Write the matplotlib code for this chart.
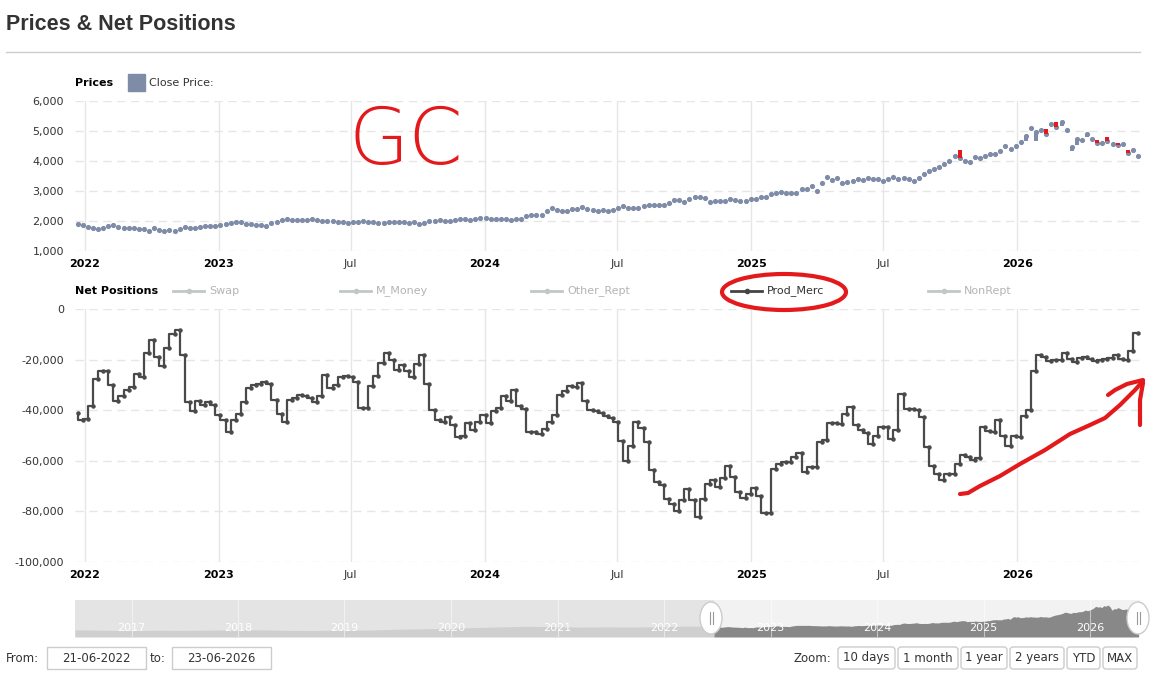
import numpy as np
import pandas as pd
import matplotlib
matplotlib.use("Agg")
import matplotlib.pyplot as plt
import matplotlib.dates as mdates
from matplotlib.patches import Rectangle, Ellipse, FancyBboxPatch
from matplotlib.lines import Line2D
from matplotlib.ticker import FuncFormatter, MultipleLocator
from matplotlib.transforms import IdentityTransform

plt.rcParams["font.family"] = ["DejaVu Sans"]

# weekly close price (GC), 21-06-2022 onwards
close_price = [
    1890, 1870, 1810, 1780, 1745, 1780, 1830, 1855, 1810, 1780,
    1770, 1755, 1735, 1720, 1680, 1770, 1710, 1680, 1700, 1670,
    1745, 1810, 1780, 1780, 1810, 1845, 1845, 1845, 1870, 1900,
    1945, 1965, 1980, 1900, 1890, 1870, 1870, 1845, 1935, 1980,
    2030, 2055, 2045, 2045, 2045, 2045, 2065, 2030, 2010, 2010,
    2000, 1980, 1980, 1945, 1965, 1955, 2000, 1980, 1965, 1945,
    1935, 1955, 1980, 1965, 1955, 1945, 1955, 1890, 1935, 1990,
    2010, 2030, 2000, 2010, 2030, 2065, 2065, 2020, 2080, 2100,
    2110, 2080, 2080, 2080, 2065, 2030, 2065, 2065, 2165, 2200,
    2210, 2200, 2345, 2420, 2380, 2345, 2345, 2390, 2400,
    2480, 2400, 2355, 2335, 2365, 2345, 2365, 2420, 2510, 2445,
    2445, 2435, 2510, 2545, 2545, 2545, 2545, 2590, 2700, 2700,
    2645, 2720, 2790, 2810, 2780, 2645, 2680, 2680, 2680, 2745,
    2690, 2680, 2680, 2720, 2720, 2810, 2810, 2900, 2945, 2965,
    2945, 2945, 2945, 3080, 3080, 3180, 3010, 3280, 3455, 3365,
    3435, 3280, 3300, 3345, 3410, 3365, 3445, 3390, 3390, 3345,
    3390, 3480, 3390, 3420, 3400, 3345, 3445, 3580, 3680, 3745,
    3810, 3890, 4010, 4165, 4110, 4010, 3980, 4135, 4100, 4180,
    4245, 4235, 4345, 4510, 4400, 4500, 4645, 4830, 5110, 4980,
    5035, 4900, 5220, 5120, 5310, 5035, 4480, 4720, 4700, 4900,
    4735, 4590, 4610, 4680, 4555, 4520, 4555, 4280, 4365, 4165,
]

# weeks where a candle body is visible: index and open
candle_idx = [173, 186, 188, 190, 192, 193, 195, 196, 198, 200, 202, 204, 206]
candle_open = [4365, 4680, 4680, 5055, 5310, 5170, 4345, 4530, 4790, 4700, 4790, 4590, 4370]

# Prod_Merc net position, same weeks
prod_merc = [
    -41000, -44000, -43500, -38500, -27800, -24700, -24700, -30000, -36400, -34300,
    -32000, -31000, -25700, -27000, -17400, -12200, -19000, -22600, -15500, -9900,
    -8300, -18200, -36600, -40500, -36200, -37800, -36800, -37800, -42000, -43700,
    -48700, -44000, -41400, -36800, -31200, -30000, -29500, -29000, -29500, -35800,
    -41400, -44500, -35800, -35000, -33800, -34500, -35300, -36600, -34200, -25900,
    -31200, -30000, -27000, -26500,
    -27000, -29000, -39000, -39000, -30300, -26300, -21300, -17500, -20100, -24000,
    -22000, -24700, -26700, -21700, -18200, -29600, -39900, -43800, -44700, -42800,
    -45800, -50700, -50200, -45100, -48000, -44700, -41700, -45000, -40500, -39000,
    -34200, -36400, -32000, -38300, -39700, -48800, -48700, -49300, -47400, -44700,
    -42000, -34000, -32500, -30600, -31000, -29300, -36400, -40100, -40400, -41000,
    -42400, -43000,
    -44700, -52000, -60100, -54200, -44700, -47000, -52600, -63800, -68400, -69700,
    -75000, -77200, -79900, -75300, -71300, -75300, -82200, -75000, -69100, -67400,
    -70400, -66800, -62100, -66400, -72400, -74600, -73000, -70700, -74100, -80500,
    -80500, -63400, -61200, -60300, -60500, -58600, -57000, -64500, -62500, -62500,
    -52600, -51700, -45100, -45100, -45400, -41400, -38800, -45700, -47800, -49000,
    -53300, -50300, -46700,
    -46700, -51300, -48000, -33600, -39500, -39500, -40000, -42500, -54600, -62100,
    -65100, -67400, -65400, -65400, -61200, -57600, -58600, -59600, -59000, -46700,
    -48400, -48600, -43700, -50000, -54200, -50000, -50500, -42100, -40100, -24700,
    -18000, -19100, -20600, -20200, -20100, -17500, -19700, -21000, -19300, -19000,
    -19800, -20400, -20000, -19600, -19300, -18200, -19800, -20000, -16700, -9500,
]

# navigator history before the selected range (quarterly)
nav_early_price = [
    1330, 1270, 1200, 1260, 1240, 1280, 1330, 1330, 1240, 1220,
    1290, 1280, 1410, 1490, 1560, 1690, 1800, 1890, 1850, 1770,
    1800, 1780, 1820, 1930,
]

tick_dates = ["2022-07-01", "2023-01-01", "2023-07-01", "2024-01-01",
              "2024-07-01", "2025-01-01", "2025-07-01", "2026-01-01"]
tick_labels = ["2022", "2023", "Jul", "2024", "Jul", "2025", "Jul", "2026"]
nav_years = [2017, 2018, 2019, 2020, 2021, 2022, 2023, 2024, 2025, 2026]
legend_names = ["Swap", "M_Money", "Other_Rept", "Prod_Merc", "NonRept"]
zoom_buttons = ["10 days", "1 month", "1 year", "2 years", "YTD", "MAX"]

dates = pd.date_range("2022-06-21", periods=len(close_price), freq="7D")
x = mdates.date2num(dates)
nav_early_dates = pd.date_range("2016-06-21", periods=len(nav_early_price), freq="91D")
x_nav_early = mdates.date2num(nav_early_dates)
tick_x = mdates.date2num(pd.to_datetime(tick_dates))

W, H = 1158, 680
RED = "#e3191c"


def fx(px):
    return px / W


def fy(py):
    return 1 - py / H


fig = plt.figure(figsize=(W / 100, H / 100), dpi=100)

ax_p = fig.add_axes([fx(75), fy(251), (1140 - 75) / W, 150 / H])
ax_n = fig.add_axes([fx(75), fy(562), (1140 - 75) / W, 253 / H])

for ax in (ax_p, ax_n):
    for s in ax.spines.values():
        s.set_visible(False)
    ax.set_axisbelow(True)
    ax.grid(axis="y", color="#e6e6e6", linestyle=(0, (6, 4)), linewidth=1)
    ax.grid(axis="x", color="#e6e6e6", linestyle="-", linewidth=1)
    ax.tick_params(length=0, labelsize=8, colors="#333333")
    ax.tick_params(axis="y", pad=8)
    ax.tick_params(axis="x", pad=6)
    ax.set_xlim(x[0] - 3.7, x[-1] + 2.7)
    ax.set_xticks(tick_x)
    ax.set_xticklabels(tick_labels)
    for lab in ax.get_xticklabels():
        if lab.get_text() != "Jul":
            lab.set_fontweight("bold")
            lab.set_color("#000000")
    ax.yaxis.set_major_formatter(FuncFormatter(lambda v, p: f"{int(v):,}"))

# prices
ax_p.set_ylim(1000, 6000)
ax_p.yaxis.set_major_locator(MultipleLocator(1000))
ax_p.plot(x, close_price, "o", ms=2.7, color="#7f8ca8", zorder=3)
for i, op in zip(candle_idx, candle_open):
    cl = close_price[i]
    col = RED if op > cl else "#7f8ca8"
    ax_p.bar(x[i], cl - op, bottom=op, width=5.5, color=col, zorder=4)

# net positions
ax_n.set_ylim(-100000, 0)
ax_n.yaxis.set_major_locator(MultipleLocator(20000))
ax_n.plot(x, prod_merc, drawstyle="steps-pre", color="#4a4a4a", lw=1.6,
          marker="o", ms=2.2, zorder=3)

# navigator
ax_nav = fig.add_axes([fx(75), fy(637), (1140 - 75) / W, 37 / H])
for s in ax_nav.spines.values():
    s.set_visible(False)
ax_nav.set_xticks([])
ax_nav.set_yticks([])
nav_lo = mdates.date2num(pd.Timestamp("2016-06-21"))
nav_hi = mdates.date2num(pd.Timestamp("2026-06-21"))
ax_nav.set_xlim(nav_lo, nav_hi)
ax_nav.set_ylim(180, 6120)
ax_nav.axvspan(nav_lo, x[0], color="#e4e4e4", lw=0)
ax_nav.axvspan(x[0], nav_hi, color="#f2f2f2", lw=0)
left_x = np.append(x_nav_early, x[0])
left_y = np.append(nav_early_price, close_price[0])
ax_nav.fill_between(left_x, 180, left_y, color="#cfcfcf", lw=0)
ax_nav.fill_between(x, 180, close_price, color="#888888", lw=0)
for yr in nav_years:
    yx = mdates.date2num(pd.Timestamp(f"{yr}-01-01"))
    ax_nav.axvline(yx, color="white", lw=0.8, alpha=0.5)
    ax_nav.text(yx, 0.12, str(yr), transform=ax_nav.get_xaxis_transform(),
                ha="center", va="bottom", fontsize=8, color="white")

for hx in (711, 1138):
    fig.add_artist(Ellipse((hx, H - 618), 22, 32, transform=IdentityTransform(),
                           facecolor="white", edgecolor="#cccccc", lw=1, zorder=10))
    for dx in (-1.5, 1.5):
        fig.add_artist(Line2D([hx + dx, hx + dx], [H - 612, H - 624],
                              transform=IdentityTransform(), color="#999999",
                              lw=0.8, zorder=11))

# header
fig.text(fx(6), fy(24), "Prices & Net Positions", fontsize=15.5, fontweight="bold",
         color="#333333", family=["Liberation Sans", "DejaVu Sans"], va="center")
fig.add_artist(Line2D([fx(6), fx(1140)], [fy(52), fy(52)], color="#cccccc", lw=1))

fig.text(fx(75), fy(83), "Prices", fontsize=8, fontweight="bold", color="#000000",
         va="center")
fig.add_artist(Rectangle((fx(128), fy(91)), 17 / W, 17 / H, transform=fig.transFigure,
                         color="#7f8ca8"))
fig.text(fx(149), fy(83), "Close Price:", fontsize=8, color="#333333", va="center")

fig.text(fx(75), fy(291), "Net Positions", fontsize=8, fontweight="bold",
         color="#000000", va="center")
legend_x = [173, 340, 531, 731, 928]
for name, lx in zip(legend_names, legend_x):
    active = name == "Prod_Merc"
    lc = "#444444" if active else "#c0c8c8"
    tc = "#333333" if active else "#b4b4b4"
    fig.add_artist(Line2D([fx(lx), fx(lx + 31)], [fy(291), fy(291)], color=lc, lw=2))
    fig.add_artist(Line2D([fx(lx + 15.5)], [fy(291)], color=lc, marker="o", ms=3))
    fig.text(fx(lx + 36), fy(291), name, fontsize=8, color=tc, va="center")

# range inputs
fig.text(fx(6), fy(658), "From:", fontsize=8.5, color="#333333", va="center")
fig.add_artist(Rectangle((fx(47), fy(669)), 99 / W, 22 / H, transform=fig.transFigure,
                         facecolor="white", edgecolor="#cccccc", lw=1))
fig.text(fx(96), fy(658), "21-06-2022", fontsize=8.5, color="#333333",
         va="center", ha="center")
fig.text(fx(150), fy(658), "to:", fontsize=8.5, color="#333333", va="center")
fig.add_artist(Rectangle((fx(172), fy(669)), 99 / W, 22 / H, transform=fig.transFigure,
                         facecolor="white", edgecolor="#cccccc", lw=1))
fig.text(fx(221), fy(658), "23-06-2026", fontsize=8.5, color="#333333",
         va="center", ha="center")

fig.text(fx(794), fy(658), "Zoom:", fontsize=8.5, color="#333333", va="center")
button_edges = [(838, 895), (898, 958), (961, 1007), (1010, 1064), (1067, 1100), (1103, 1137)]
for label, (b0, b1) in zip(zoom_buttons, button_edges):
    fig.add_artist(FancyBboxPatch((b0, H - 669), b1 - b0, 22,
                                  boxstyle="round,pad=0,rounding_size=3",
                                  transform=IdentityTransform(), facecolor="white",
                                  edgecolor="#cccccc", lw=1))
    fig.text(fx((b0 + b1) / 2), fy(658), label, fontsize=8.5, color="#333333",
             va="center", ha="center")

# red hand annotations
fig.text(fx(406), fy(142), "GC", fontsize=56, color=RED, ha="center", va="center",
         fontweight="light")
fig.add_artist(Ellipse((784, H - 292), 124, 36, transform=IdentityTransform(),
                       facecolor="none", edgecolor=RED, lw=3, zorder=12))
arrow_px = [(960, 494), (968, 493), (980, 486), (1000, 476), (1020, 464), (1045, 450),
            (1070, 434), (1090, 425), (1105, 418), (1120, 405), (1135, 390), (1143, 381)]
head_a = [(1108, 395), (1115, 390), (1127, 384), (1143, 380)]
head_b = [(1143, 383), (1140, 400), (1140, 425)]
for pts in (arrow_px, head_a, head_b):
    fig.add_artist(Line2D([p[0] for p in pts], [H - p[1] for p in pts],
                          transform=IdentityTransform(), color=RED, lw=3,
                          solid_capstyle="round", zorder=12))

fig.savefig("out.png", dpi=100)
